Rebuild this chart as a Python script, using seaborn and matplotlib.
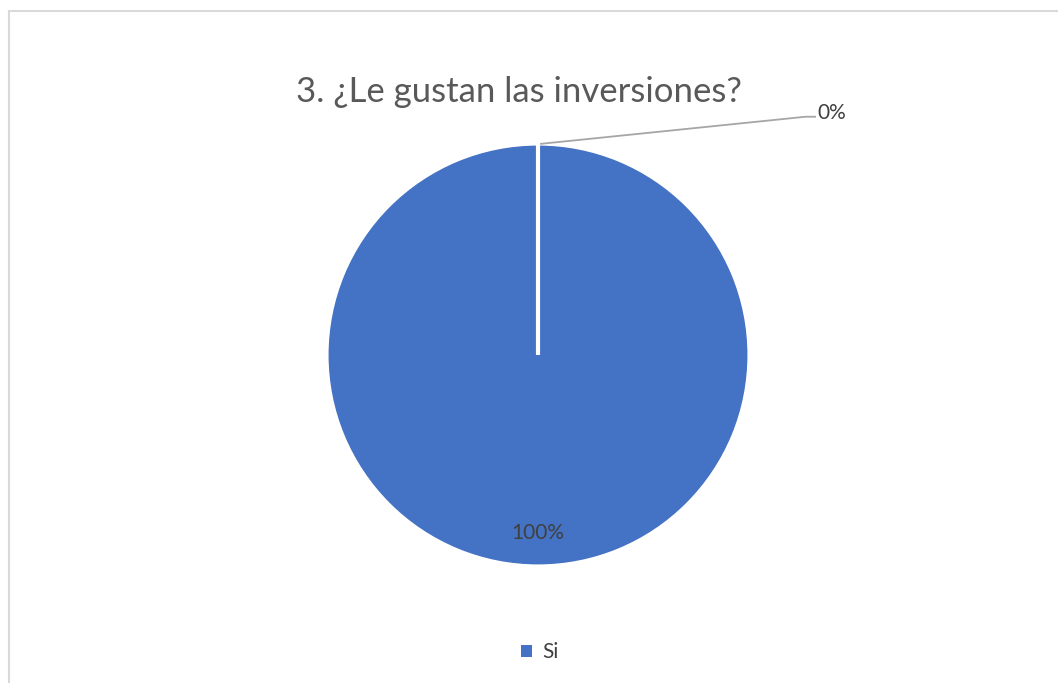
import matplotlib
matplotlib.use("Agg")
import matplotlib.pyplot as plt
import matplotlib.patches as mpatches
import seaborn as sns
import numpy as np

categories = ["Si", "No"]
values = [100, 0]
legend_labels = ["Si"]
title = "3. ¿Le gustan las inversiones?"
colors = ["#4472C4", "#ED7D31"]

sns.set_style("white")
plt.rcParams['font.family'] = ['Lato', 'DejaVu Sans']

W, H = 1058, 683
fig = plt.figure(figsize=(W / 100, H / 100), dpi=100)
ax = fig.add_axes([0, 0, 1, 1])

cx, cy, R = 538, 355, 209

total = sum(values)
wedges, texts, autotexts = ax.pie(
    values, colors=colors, startangle=90, counterclock=False, radius=1.012,
    autopct=lambda p: f"{p:.0f}%" if p > 0 else "", pctdistance=0.84,
    wedgeprops=dict(edgecolor="white", linewidth=3.0),
    textprops=dict(color="#404040", fontsize=15))

ax.set_aspect("auto")
ax.set_xlim(-cx / R, (W - cx) / R)
ax.set_ylim((cy - H) / R, cy / R)
ax.axis("off")

# label for the zero slice with leader line
cum = 0
for i, v in enumerate(values):
    if v == 0:
        ang = np.deg2rad(90 - 360 * cum / total)
        x0, y0 = np.cos(ang) * 1.01 + 0.01, np.sin(ang) * 1.01
        elbow = (1.28, 1.14)
        ax.plot([x0, elbow[0], elbow[0] + 0.05], [y0, elbow[1], elbow[1]],
                color="#A6A6A6", lw=1.3, solid_capstyle="butt")
        ax.text(elbow[0] + 0.055, elbow[1] + 0.02, f"{v / total * 100:.0f}%",
                color="#404040", fontsize=15, ha="left", va="center")
    cum += v

fig.text(519 / W, 1 - 92 / H, title, ha="center", va="center",
         fontsize=25, color="#595959")

handles = [mpatches.Patch(facecolor=colors[0], edgecolor="none")]
fig.legend(handles, legend_labels, loc="center", bbox_to_anchor=(540 / W, 1 - 652 / H),
           frameon=False, handlelength=0.5, handleheight=0.5, handletextpad=0.5,
           prop=dict(size=15), labelcolor="#404040")

border = mpatches.Rectangle((8.5 / W, -0.05), 1.1, (H - 10.5) / H + 0.05,
                            transform=fig.transFigure, fill=False,
                            edgecolor="#D9D9D9", lw=1.5)
fig.patches.append(border)

fig.savefig("out.png", dpi=100, facecolor="white")
